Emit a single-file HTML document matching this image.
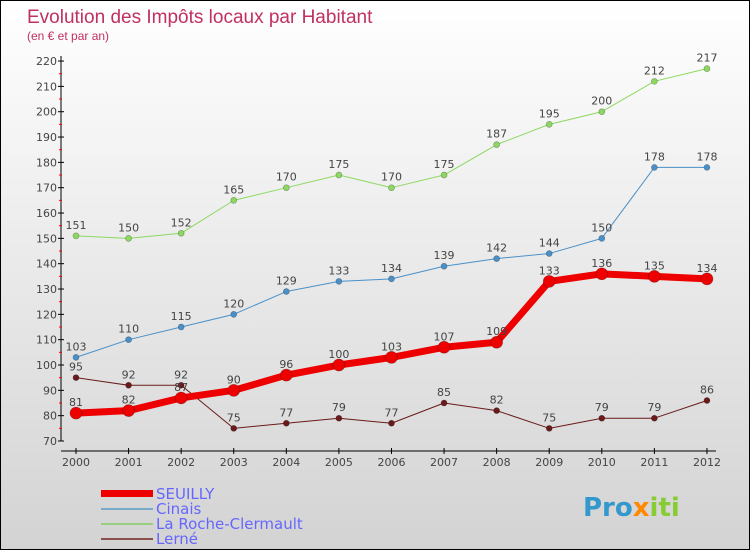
<!DOCTYPE html>
<html><head><meta charset="utf-8"><style>
body{margin:0}
#c{width:748px;height:548px;border:1px solid #000;background:linear-gradient(#fff,#d3d3d3);position:relative;font-family:"DejaVu Sans","Liberation Sans",sans-serif}
</style></head><body>
<div id="c">
<svg id="s" width="748" height="548" style="position:absolute;left:0;top:0">
<text x="26" y="22" font-size="19" font-family="Liberation Sans" fill="#c03060">Evolution des Impôts locaux par Habitant</text>
<text x="26" y="39" font-size="12" font-family="Liberation Sans" fill="#c03060">(en € et par an)</text>
<g id="g"></g>
<text x="155" y="498" font-size="15" fill="#6666ff">SEUILLY</text>
<text x="155" y="513" font-size="15" fill="#6666ff">Cinais</text>
<text x="155" y="528" font-size="15" fill="#6666ff">La Roche-Clermault</text>
<text x="155" y="543" font-size="15" fill="#6666ff">Lerné</text>
<rect x="100" y="489" width="52" height="7" fill="#ee0000"/>
<rect x="100" y="507" width="52" height="2" fill="#7aaacc"/>
<rect x="100" y="522" width="52" height="2" fill="#99d080"/>
<rect x="100" y="537" width="52" height="2" fill="#8a5050"/>
<text x="582" y="515" font-size="26" font-weight="bold" fill="#3399cc">Pro<tspan fill="#ff8800">x</tspan><tspan fill="#88cc33">iti</tspan></text>
</svg></div>
<script>
const years=[2000,2001,2002,2003,2004,2005,2006,2007,2008,2009,2010,2011,2012];
const seuilly=[81,82,87,90,96,100,103,107,109,133,136,135,134];
const cinais=[103,110,115,120,129,133,134,139,142,144,150,178,178];
const roche=[151,150,152,165,170,175,170,175,187,195,200,212,217];
const lerne=[95,92,92,75,77,79,77,85,82,75,79,79,86];
const yTicks=[70,80,90,100,110,120,130,140,150,160,170,180,190,200,210,220];
const NS="http://www.w3.org/2000/svg",g=document.getElementById('g');
const X=i=>75+i*52.58, Y=v=>440-(v-70)*2.533;
function el(t,a){const e=document.createElementNS(NS,t);for(const k in a)e.setAttribute(k,a[k]);g.appendChild(e);return e;}
let e=el('line',{x1:60,y1:55,x2:60,y2:440,stroke:'#000'});

e=el('line',{x1:60,y1:450,x2:715,y2:450,stroke:'#000'});

yTicks.forEach(v=>{
 el('line',{x1:57,x2:63,y1:Y(v),y2:Y(v),stroke:'#000'});
 if(v<220)el('line',{x1:58,x2:61,y1:Y(v+5),y2:Y(v+5),stroke:'#f00'});
 const t=el('text',{x:56,y:Y(v)+4,'font-size':11,'text-anchor':'end',fill:'#444'});t.textContent=v;
 
});
years.forEach((y,i)=>{
 el('line',{x1:X(i),x2:X(i),y1:447,y2:453,stroke:'#000'});
 const t=el('text',{x:X(i),y:465,'font-size':11,'text-anchor':'middle',fill:'#444'});t.textContent=y;
 
});
function series(d,col,w,r,name){
 const p=el('polyline',{points:d.map((v,i)=>X(i)+','+Y(v)).join(' '),fill:'none',stroke:col,'stroke-width':w,'stroke-linejoin':'round'});
 
 d.forEach((v,i)=>{
  const c=el('circle',{cx:X(i),cy:Y(v),r:r,fill:col,stroke:'rgba(0,0,0,0.3)','stroke-width':0.7});
  
  const t=el('text',{x:X(i),y:Y(v)-7,'font-size':11,'text-anchor':'middle',fill:'#444'});t.textContent=v;
  
 });
}
series(lerne,'#6a1a1a',1,3,'lerne');
series(roche,'#8cd860',1,3,'la-roche');
series(cinais,'#4a90c8',1,3,'cinais');
series(seuilly,'#ee0000',7,6,'seuilly');
</script>
</body></html>
